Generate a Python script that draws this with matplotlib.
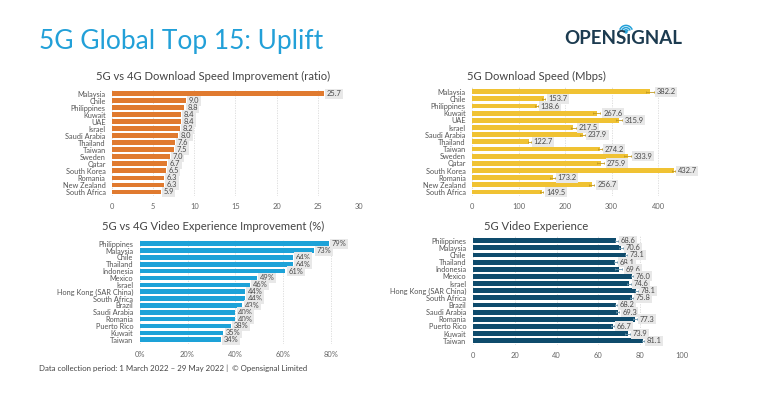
import numpy as np
import matplotlib
matplotlib.use("Agg")
import matplotlib.pyplot as plt
from matplotlib.patches import Arc

plt.rcParams['font.family'] = ['Lato', 'DejaVu Sans']

# --- data ---
dl_ratio_countries = ["Malaysia", "Chile", "Philippines", "Kuwait", "UAE", "Israel",
                      "Saudi Arabia", "Thailand", "Taiwan", "Sweden", "Qatar",
                      "South Korea", "Romania", "New Zealand", "South Africa"]
dl_ratio = [25.7, 9.0, 8.8, 8.4, 8.4, 8.2, 8.0, 7.6, 7.5, 7.0, 6.7, 6.5, 6.3, 6.3, 5.9]

dl_speed = [382.2, 153.7, 138.6, 267.6, 315.9, 217.5, 237.9, 122.7, 274.2, 333.9,
            275.9, 432.7, 173.2, 256.7, 149.5]
dl_speed_err = [8, 4, 3, 8, 6, 5, 5, 3, 4, 7, 8, 3, 5, 6, 4]

vid_countries = ["Philippines", "Malaysia", "Chile", "Thailand", "Indonesia", "Mexico",
                 "Israel", "Hong Kong (SAR China)", "South Africa", "Brazil",
                 "Saudi Arabia", "Romania", "Puerto Rico", "Kuwait", "Taiwan"]
vid_improve = [79, 73, 64, 64, 61, 49, 46, 44, 44, 43, 40, 40, 38, 35, 34]

vid_score = [68.6, 70.6, 73.1, 68.1, 69.6, 76.0, 74.6, 78.1, 75.8, 68.2, 69.3, 77.3,
             66.7, 73.9, 81.1]
vid_score_err = [0.8, 1.0, 0.6, 0.7, 1.8, 0.5, 0.9, 0.8, 0.6, 0.5, 0.7, 0.9, 0.5, 1.0, 0.4]

ratio_ticks = [0, 5, 10, 15, 20, 25, 30]
speed_ticks = [0, 100, 200, 300, 400]
pct_ticks = [0, 20, 40, 60, 80]
pct_labels = ["0%", "20%", "40%", "60%", "80%"]
score_ticks = [0, 20, 40, 60, 80, 100]

W, H = 760, 394
fig = plt.figure(figsize=(W / 100, H / 100), dpi=100)
fig.patch.set_facecolor("white")


def px_axes(x0, x1, y_top, y_bot):
    return fig.add_axes([x0 / W, 1 - y_bot / H, (x1 - x0) / W, (y_bot - y_top) / H])


def bar_panel(ax, cats, vals, color, xlim, ticks, labels, fmt, err=None, ecolor=None):
    y = np.arange(len(cats))
    ax.barh(y, vals, height=0.68, color=color, zorder=2)
    if err is not None:
        ax.errorbar(vals, y, xerr=err, fmt="none", ecolor=ecolor, elinewidth=0.6,
                    capsize=1.0, capthick=0.6, zorder=3)
    for i, v in enumerate(vals):
        end = v + (err[i] if err is not None else 0)
        ax.annotate(fmt(v), xy=(end, i), xytext=(2.0, 0), textcoords="offset points",
                    va="center", ha="left", fontsize=5.4, color="#4a4a4a", zorder=4,
                    bbox=dict(boxstyle="square,pad=0.2", fc="#e8e8e8", ec="none"))
    ax.set_ylim(len(cats) - 0.4, -0.6)
    ax.set_xlim(*xlim)
    ax.set_yticks(y)
    ax.set_yticklabels(cats, fontsize=5.3, color="#555555")
    ax.set_xticks(ticks)
    ax.set_xticklabels(labels, fontsize=5.4, color="#666666")
    ax.tick_params(length=0, pad=4.5)
    ax.tick_params(axis="x", pad=5)
    for s in ax.spines.values():
        s.set_visible(False)
    ax.grid(axis="x", color="#d9d9d9", linestyle=(0, (1.5, 1.5)), linewidth=0.6, zorder=0)
    ax.set_axisbelow(True)


ax1 = px_axes(112, 359, 89.3, 196.2)
bar_panel(ax1, dl_ratio_countries, dl_ratio, "#E07A2F", (0, 30), ratio_ticks,
          [str(t) for t in ratio_ticks], lambda v: f"{v:.1f}")

ax2 = px_axes(472, 681.6, 87.4, 196.3)
bar_panel(ax2, dl_ratio_countries, dl_speed, "#F0C233", (0, 450), speed_ticks,
          [str(t) for t in speed_ticks], lambda v: f"{v:.1f}",
          err=dl_speed_err, ecolor="#c29a22")

ax3 = px_axes(139.7, 354.8, 239.6, 343.8)
bar_panel(ax3, vid_countries, vid_improve, "#1DA2D8", (0, 90), pct_ticks, pct_labels,
          lambda v: f"{v:d}%")

ax4 = px_axes(472.7, 682.3, 236.4, 345.0)
bar_panel(ax4, vid_countries, vid_score, "#0E4B6C", (0, 100), score_ticks,
          [str(t) for t in score_ticks], lambda v: f"{v:.1f}",
          err=vid_score_err, ecolor="#6a93aa")

# --- texts ---
fig.text(39 / W, 1 - 41 / H, "5G Global Top 15: Uplift", fontsize=19, color="#22A0D8",
         va="center", ha="left")
tkw = dict(fontsize=8.1, color="#444444", va="center", ha="left")
fig.text(96 / W, 1 - 76 / H, "5G vs 4G Download Speed Improvement (ratio)", **tkw)
fig.text(467 / W, 1 - 76 / H, "5G Download Speed (Mbps)", **tkw)
fig.text(102 / W, 1 - 226 / H, "5G vs 4G Video Experience Improvement (%)", **tkw)
fig.text(484 / W, 1 - 226 / H, "5G Video Experience", **tkw)
fig.text(39 / W, 1 - 368 / H,
         "Data collection period: 1 March 2022 \u2013 29 May 2022 |  \u00a9 Opensignal Limited",
         fontsize=5.7, color="#444444", va="center", ha="left")

# --- logo ---
logo = fig.add_axes([0, 0, 1, 1], zorder=5)
logo.set_xlim(0, W)
logo.set_ylim(H, 0)
logo.axis("off")
logo.text(564, 38, "OPENS\u0131GNAL", fontsize=13.5, fontweight="bold", color="#1C3B50",
          va="center", ha="left")
for r in (2.2, 4.4, 6.6):
    logo.add_patch(Arc((626, 32), 2 * r, 2 * r, theta1=200, theta2=340,
                       color="#22A0D8", lw=1.1))
logo.add_patch(plt.Circle((626, 32), 1.0, color="#22A0D8"))

fig.savefig("out.png", dpi=100)
